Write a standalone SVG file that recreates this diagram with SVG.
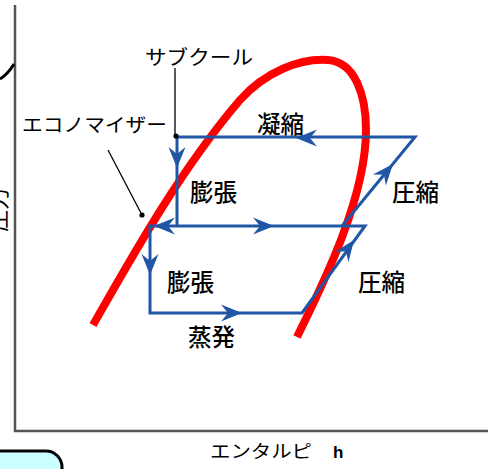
<svg xmlns="http://www.w3.org/2000/svg" xmlns:xlink="http://www.w3.org/1999/xlink" width="491" height="469" viewBox="0 0 491 469">
<style>
.t{font-family:"Noto Sans CJK JP","Noto Sans",sans-serif;fill:#000}
.k{font-family:"Noto Sans CJK JP","Noto Sans",sans-serif;fill:#000;font-size:23.5px;font-weight:500}
.blue{fill:none;stroke:#1f56a5;stroke-width:3;stroke-linejoin:miter}
.ah{fill:#1f56a5}
.lead{fill:none;stroke:#000;stroke-width:1.3}
.axis{fill:none;stroke:#555;stroke-width:2.5}
</style>
<defs>
<path id="ah" d="M0,0 L-21,-8.5 L-14,0 L-21,8.5 Z"/>
</defs>
<rect width="491" height="469" fill="#fff"/>
<g id="axes">
<path class="axis" d="M15,5 V431 H488"/>
<path d="M0,79 Q8,74 14,64" fill="none" stroke="#000" stroke-width="3"/>
<text class="t" font-size="22" transform="translate(5.5,232) rotate(-90)">圧力</text>
<text class="t" font-size="18" x="210" y="458" textLength="102" lengthAdjust="spacingAndGlyphs">エンタルピ</text>
<text x="333" y="458" font-family="Liberation Sans,Arial,sans-serif" font-size="17" font-weight="bold">h</text>
</g>
<g id="saturation-curve">
<path d="M93,325 C130,260 180,170 240,100 C265,72 300,58 328,60 C355,62 366,95 366,130 C366,200 320,290 297,337" fill="none" stroke="#ff0000" stroke-width="8"/>
</g>
<g id="connectors">
<path class="blue" d="M177,137 H415 L342,226"/>
<path class="blue" d="M177,137 V226"/>
<path class="blue" d="M150,226 H365 L302,313 H150 Z" fill="none"/>
<use href="#ah" class="ah" transform="translate(296,138) rotate(180)"/>
<use href="#ah" class="ah" transform="translate(177,168) rotate(90)"/>
<use href="#ah" class="ah" transform="translate(154,226) rotate(180)"/>
<use href="#ah" class="ah" transform="translate(274,226)"/>
<use href="#ah" class="ah" transform="translate(150,275) rotate(90)"/>
<use href="#ah" class="ah" transform="translate(242,313)"/>
<use href="#ah" class="ah" transform="translate(393,164) rotate(-49.6)"/>
<use href="#ah" class="ah" transform="translate(354,240) rotate(-54)"/>
</g>
<g id="subcool-label">
<text class="t" font-size="20" x="145" y="65" textLength="108" lengthAdjust="spacingAndGlyphs">サブクール</text>
<path class="lead" d="M175,68 V136"/>
<circle cx="176" cy="136" r="2.6"/>
</g>
<g id="economizer-label">
<text class="t" font-size="19" x="22" y="132" textLength="145" lengthAdjust="spacingAndGlyphs">エコノマイザー</text>
<path class="lead" d="M108,150 L142,215"/>
<circle cx="142" cy="215" r="2.6"/>
</g>
<g id="labels">
<text class="k" x="190" y="201">膨張</text>
<text class="k" x="257" y="133">凝縮</text>
<text class="k" x="392" y="201">圧縮</text>
<text class="k" x="167" y="291">膨張</text>
<text class="k" x="188" y="346">蒸発</text>
<text class="k" x="358" y="291">圧縮</text>
</g>
<g id="box">
<rect x="-20" y="451" width="82" height="60" rx="16" fill="#ccffff" stroke="#000" stroke-width="3"/>
</g>
</svg>
